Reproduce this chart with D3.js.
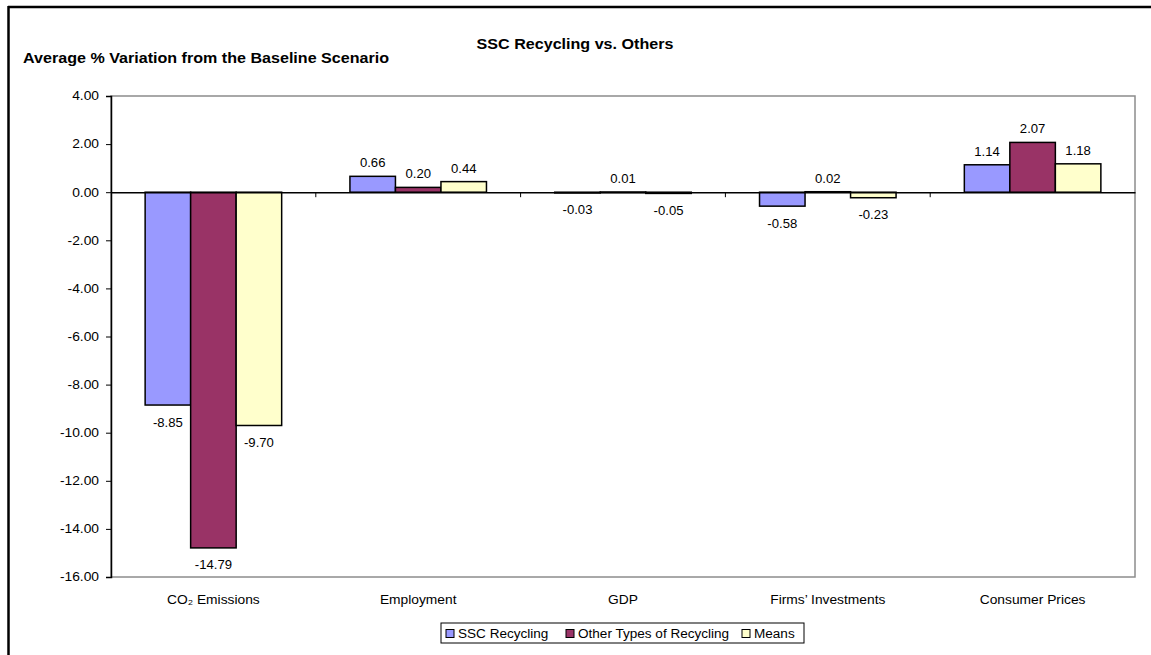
<!DOCTYPE html>
<html>
<head>
<meta charset="utf-8">
<script src="https://cdn.jsdelivr.net/npm/d3@7"></script>
<style>
  body { margin: 0; background: #fff; }
  text { font-family: "Liberation Sans", Arial, sans-serif; fill: #000; }
</style>
</head>
<body>
<div id="chart"></div>
<script>
// --- Data ---
const categories = ["CO\u2082 Emissions", "Employment", "GDP", "Firms\u2019 Investments", "Consumer Prices"];
const seriesNames = ["SSC Recycling", "Other Types of Recycling", "Means"];
const sscValues = [-8.85, 0.66, -0.03, -0.58, 1.14];
const otherValues = [-14.79, 0.20, 0.01, 0.02, 2.07];
const meanValues = [-9.70, 0.44, -0.05, -0.23, 1.18];
const yTicks = [4, 2, 0, -2, -4, -6, -8, -10, -12, -14, -16];
const colors = ["#9999FF", "#993366", "#FFFFCC"];

const series = [sscValues, otherValues, meanValues];
const fmt = d => d.toFixed(2); // plain hyphen minus, like the original

const width = 1151, height = 655;
const plot = { left: 111, right: 1135, top: 96, bottom: 577 };
const SX = 1.15; // the original picture is slightly stretched horizontally

const svg = d3.select("#chart").append("svg")
    .attr("width", width)
    .attr("height", height);

// text placed at (x, y) and widened a little
function label(g, x, y, str, size, sx) {
    return g.append("text")
        .attr("transform", `translate(${x},${y}) scale(${sx},1)`)
        .attr("font-size", size)
        .text(str);
}

// outer frame (top and left only visible)
svg.append("line").attr("x1", 8).attr("x2", width).attr("y1", 7).attr("y2", 7)
    .attr("stroke", "#000").attr("stroke-width", 2.5);
svg.append("line").attr("x1", 8.5).attr("x2", 8.5).attr("y1", 6).attr("y2", height)
    .attr("stroke", "#000").attr("stroke-width", 2.5);

// --- Scales ---
const y = d3.scaleLinear().domain([-16, 4]).range([plot.bottom, plot.top]);
const x = d3.scaleBand().domain(categories).range([plot.left, plot.right]);
const barW = x.bandwidth() / 4.5;

// plot area border (gray)
svg.append("rect")
    .attr("x", plot.left).attr("y", plot.top)
    .attr("width", plot.right - plot.left).attr("height", plot.bottom - plot.top)
    .attr("fill", "none").attr("stroke", "#8c8c8c").attr("stroke-width", 1.5);

// --- Titles ---
label(svg, 575, 49, "SSC Recycling vs. Others", 14, SX)
    .attr("text-anchor", "middle").attr("font-weight", "bold");
label(svg, 23, 63, "Average % Variation from the Baseline Scenario", 14, SX)
    .attr("font-weight", "bold");

// --- Bars ---
series.forEach((vals, s) => {
    svg.append("g").selectAll("rect")
        .data(vals)
        .join("rect")
        .attr("x", (d, i) => x(categories[i]) + barW * 0.75 + s * barW)
        .attr("y", d => y(Math.max(0, d)))
        .attr("width", barW)
        .attr("height", d => Math.max(Math.abs(y(d) - y(0)), 0.5))
        .attr("fill", colors[s])
        .attr("stroke", "#000")
        .attr("stroke-width", 1.5);

    const g = svg.append("g");
    vals.forEach((d, i) => {
        const cx = x(categories[i]) + barW * 0.75 + s * barW + barW / 2;
        label(g, cx, d >= 0 ? y(d) - 9 : y(d) + 21.5, fmt(d), 12.5, 1.05)
            .attr("text-anchor", "middle");
    });
});

// --- Axes ---
const yAxis = svg.append("g")
    .attr("transform", `translate(${plot.left},0)`)
    .call(d3.axisLeft(y).tickValues(yTicks).tickSize(5).tickFormat(fmt));
yAxis.select(".domain").attr("stroke", "#000").attr("stroke-width", 1.5);
yAxis.selectAll(".tick line").attr("stroke", "#000");
yAxis.selectAll(".tick text").attr("font-size", 12).attr("x", -12 / SX)
    .attr("transform", `scale(${SX},1)`)
    .attr("font-family", "Liberation Sans, Arial, sans-serif");

// zero line with category ticks
const xAxis = svg.append("g")
    .attr("transform", `translate(0,${y(0)})`)
    .call(d3.axisBottom(x).tickSize(0).tickFormat(""));
xAxis.select(".domain").attr("stroke", "#000").attr("stroke-width", 1.5);
svg.append("g").selectAll("line")
    .data(categories.slice(1))
    .join("line")
    .attr("x1", d => x(d)).attr("x2", d => x(d))
    .attr("y1", y(0)).attr("y2", y(0) + 5)
    .attr("stroke", "#000");

// category labels
const catG = svg.append("g");
categories.forEach(c => {
    label(catG, x(c) + x.bandwidth() / 2, 604, c, 12, SX).attr("text-anchor", "middle");
});

// --- Legend ---
const legend = svg.append("g");
legend.append("rect").attr("x", 441).attr("y", 623).attr("width", 363).attr("height", 20)
    .attr("fill", "#fff").attr("stroke", "#000").attr("stroke-width", 1);
const legendX = [446, 566, 742];
seriesNames.forEach((name, i) => {
    legend.append("rect").attr("x", legendX[i]).attr("y", 629.5).attr("width", 8).attr("height", 8)
        .attr("fill", colors[i]).attr("stroke", "#000").attr("stroke-width", 1);
    label(legend, legendX[i] + 12, 638, name, 12, 1.13);
});
</script>
</body>
</html>
